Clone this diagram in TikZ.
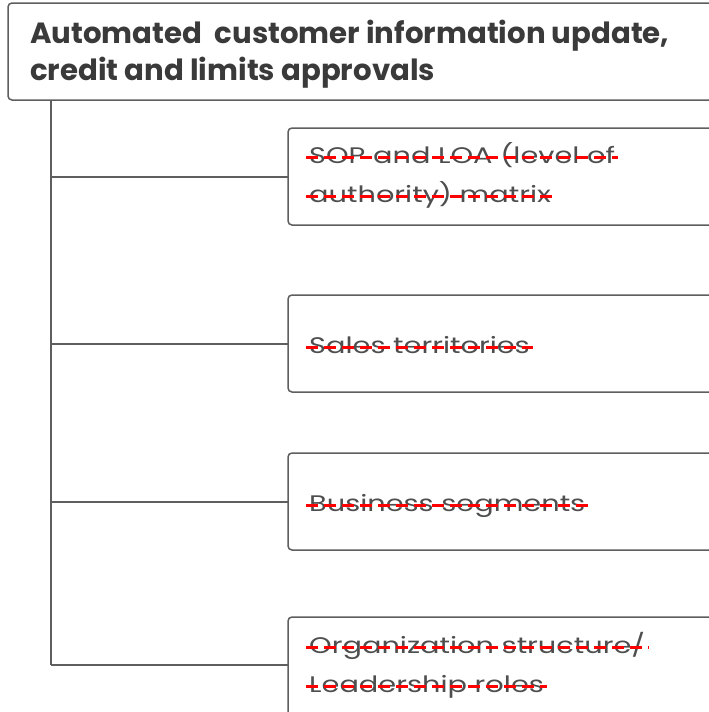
\documentclass[tikz,border=0pt]{standalone}
\usepackage{fontspec}
\setmainfont{Poppins}
\newfontfamily\itemfont[FakeStretch=1.28]{Poppins}
\definecolor{frame}{HTML}{5E5E5E}
\definecolor{ink}{HTML}{3A3A3A}
\definecolor{strikered}{HTML}{FF0000}
\begin{document}
\begin{tikzpicture}[x=1pt,y=-1pt,
  box/.style={draw=frame,line width=1.5pt,rounded corners=4pt,fill=white},
  link/.style={draw=frame,line width=1.5pt},
  headline/.style={anchor=base west,inner sep=0pt,text=ink,font=\fontsize{29.2}{34}\selectfont\bfseries},
  itemline/.style={anchor=base west,inner sep=0pt,text=ink!90,font=\itemfont\fontsize{22.5}{27}\selectfont},
  strike/.style={draw=strikered,line width=3pt,dash pattern=on 12pt off 6pt}]
\useasboundingbox (0,0) rectangle (709,712);
\clip (0,0) rectangle (709,712);
\fill[white] (0,0) rectangle (709,712);

% spine and branches
\coordinate (top) at (51,100);
\coordinate (j1) at (51,177);
\coordinate (j2) at (51,344);
\coordinate (j3) at (51,502);
\coordinate (j4) at (51,665);
\draw[link] (top) -- (j4);

% boxes (right and bottom edges run off the page)
\draw[box] (8,3) rectangle (740,100);
\draw[box] (288,128) rectangle (740,225);
\draw[box] (288,295) rectangle (740,392);
\draw[box] (288,453) rectangle (740,550);
\draw[box] (288,617) rectangle (740,760);

\coordinate (e1) at (288,177);
\coordinate (e2) at (288,344);
\coordinate (e3) at (288,502);
\coordinate (e4) at (288,665);
\foreach \i in {1,...,4} \draw[link] (j\i) -- (e\i);

% heading
\node[headline] (h1) at (30,43) {Automated\ \ customer information update,};
\node[headline] (h2) at (30,80) {credit and limits approvals};

% item texts
\node[itemline] (a1) at (309,163) {SOP and LOA (level of};
\node[itemline] (a2) at (309,202) {authority) matrix};
\node[itemline] (b1) at (309,353) {Sales territories};
\node[itemline] (c1) at (309,511) {Business segments};
\node[itemline] (d1) at (309,653) {Organization structure/};
\node[itemline] (d2) at (309,692) {Leadership roles};

% red strike-through on every item line
\foreach \n in {a1,a2,b1,c1,d1,d2}
  \draw[strike] ([xshift=-3pt,yshift=5.5pt]\n.base west) -- ([xshift=3pt,yshift=5.5pt]\n.base east);
\end{tikzpicture}
\end{document}
